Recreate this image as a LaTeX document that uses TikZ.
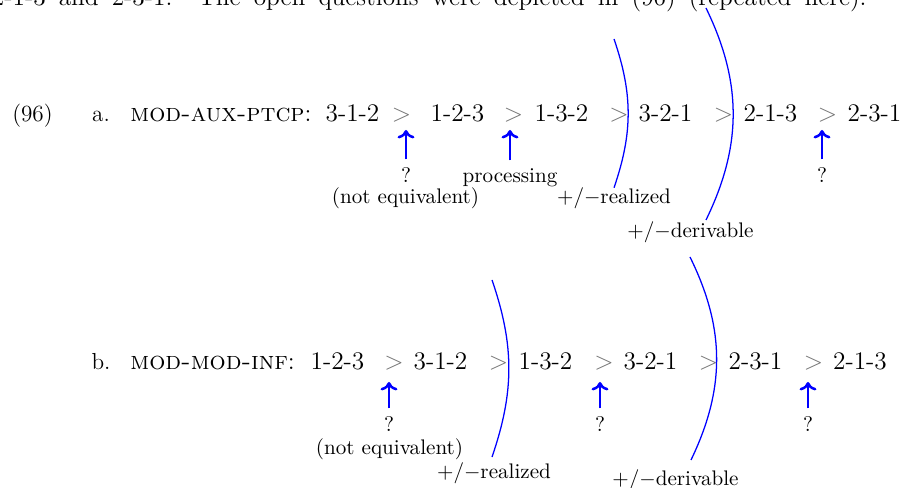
\documentclass[tikz,border=0pt]{standalone}
\usepackage{amsmath}
\usetikzlibrary{arrows.meta}
\definecolor{cutBlue}{RGB}{0,0,255}
\tikzset{
  ord/.style  = {font=\fontsize{12}{14}\selectfont, inner sep=0pt, anchor=base},
  gt/.style   = {ord, text=black!55},
  exn/.style  = {font=\fontsize{11}{13}\selectfont, inner sep=0pt, anchor=base},
  lbl/.style  = {font=\fontsize{10}{12}\selectfont, inner sep=0pt, anchor=base},
  up/.style   = {-{Computer Modern Rightarrow[length=4pt,width=8pt]}, draw=cutBlue,
                 line width=1.2pt, shorten <=4pt},
  cut/.style  = {draw=cutBlue, line width=0.6pt},
}

\begin{document}
\begin{tikzpicture}[x=0.4739pt, y=-0.4739pt]
  \useasboundingbox (0,0) rectangle (906,488);
  \clip (0,0) rectangle (906,488);
  % running text, cut off at the top
  \node[ord, anchor=base east] (prose) at (867,6)
       {\makebox[414.5pt][s]{2-1-3 and 2-3-1. The open questions were depicted in (96) (repeated here).}};
  % (96) a.
  \node[exn] (num) at (32.5,122) {(96)};
  \node[exn] (ia) at (101,122) {a.};
  \node[ord, anchor=base west] (hda) at (130,122) {\textsc{mod-aux-ptcp}:};
  \foreach \x/\t [count=\i] in {352.5/3-1-2, 457.5/1-2-3, 561.5/1-3-2,
                                665.5/3-2-1, 770.5/2-1-3, 874.5/2-3-1}
    \node[ord] (a\i) at (\x,122) {\t};
  \foreach \x [count=\i] in {401.5, 513.5, 619, 723.5, 827.5}
    \node[gt] (ga\i) at (\x,122) {$>$};
  % labels under a.
  \node[lbl] (qa1) at (406,183) {?};
  \node[lbl] (nea) at (405.5,204) {(not equivalent)};
  \node[lbl] (pa)  at (510,183) {processing};
  \node[lbl] (qa3) at (822,183) {?};
  \node[lbl] (ra)  at (614,204) {$+/-$realized};
  \node[lbl] (da)  at (690.5,238) {$+/-$derivable};
  \coordinate (ta1) at (406,130);
  \coordinate (ta2) at (510,130);
  \coordinate (ta3) at (822,130);
  \draw[up] (qa1.north) -- (ta1);
  \draw[up] (pa.north) -- (ta2);
  \draw[up] (qa3.north) -- (ta3);
  \coordinate (rta) at (614,39);
  \coordinate (dta) at (706,8);
  \coordinate (dba) at (706,220);
  \draw[cut] (rta) to[bend left=19] (ra.north);
  \draw[cut] (dta) to[bend left=26] (dba);

  % b.
  \node[exn] (ib) at (101,370) {b.};
  \node[ord, anchor=base west] (hdb) at (130,370) {\textsc{mod-mod-inf}:};
  \foreach \x/\t [count=\i] in {337.5/1-2-3, 440.5/3-1-2, 545.5/1-3-2,
                                650.5/3-2-1, 755.5/2-3-1, 860/2-1-3}
    \node[ord] (b\i) at (\x,370) {\t};
  \foreach \x [count=\i] in {394, 498.5, 604, 708.5, 813.5}
    \node[gt] (gb\i) at (\x,370) {$>$};
  % labels under b.
  \node[lbl] (qb1) at (389,432) {?};
  \node[lbl] (neb) at (389.5,455) {(not equivalent)};
  \node[lbl] (qb2) at (600,432) {?};
  \node[lbl] (qb3) at (808,432) {?};
  \node[lbl] (rb)  at (494,479) {$+/-$realized};
  \node[lbl] (db)  at (675.5,486) {$+/-$derivable};
  \coordinate (tb1) at (389,382);
  \coordinate (tb2) at (600,382);
  \coordinate (tb3) at (808,382);
  \draw[up] (qb1.north) -- (tb1);
  \draw[up] (qb2.north) -- (tb2);
  \draw[up] (qb3.north) -- (tb3);
  \coordinate (rtb) at (492,280);
  \coordinate (rbb) at (492,457);
  \coordinate (dtb) at (690,257);
  \coordinate (dbb) at (691,460);
  \draw[cut] (rtb) to[bend left=19] (rbb);
  \draw[cut] (dtb) to[bend left=26] (dbb);
\end{tikzpicture}
\end{document}
